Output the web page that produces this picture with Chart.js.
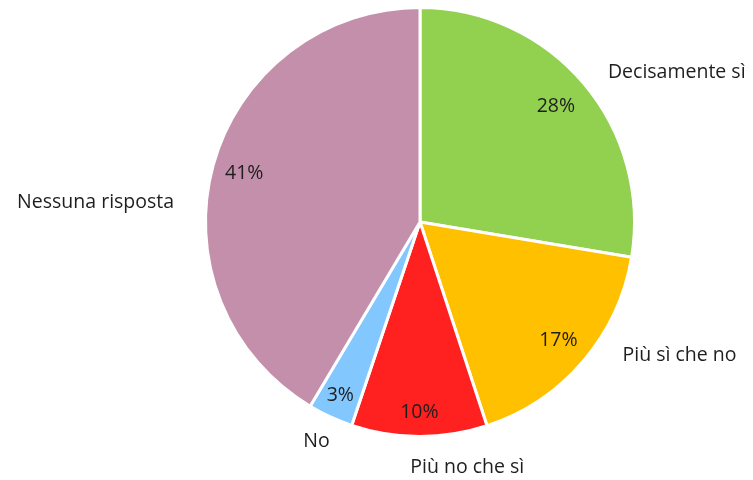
<!DOCTYPE html>
<html>
<head>
<meta charset="utf-8">
<script src="https://cdn.jsdelivr.net/npm/chart.js@4"></script>
<style>
    html, body { margin: 0; padding: 0; background: #fff; }
    #wrap { width: 753px; height: 480px; }
</style>
</head>
<body>
<div id="wrap"><canvas id="pieChart"></canvas></div>
<script>
// Dati (percentuali)
const categories = ['Decisamente sì', 'Più sì che no', 'Più no che sì', 'No', 'Nessuna risposta'];
const values = [27.6, 17.3, 10.2, 3.4, 41.4];
const colors = ['#92D050', '#FFC000', '#FF2020', '#82C8FF', '#C48FAB'];

const textColor = '#1e1e1e';
const fontFamily = '"Open Sans", "Noto Sans", sans-serif';

// posizione delle etichette: raggio relativo per le %, angolo/distanza per i nomi
const pctRadius = [0.83, 0.85, 0.89, 0.89, 0.85];
const nameSpots = [
    { angle: 59.8, dist: 1.385 },
    { angle: 117.2, dist: 1.36 },
    { angle: 169.1, dist: 1.165 },
    { angle: 205.3, dist: 1.13 },
    { angle: 273.4, dist: 1.515 }
];

const labelPlugin = {
    id: 'pieLabels',
    afterDatasetsDraw(chart) {
        const ctx = chart.ctx;
        const meta = chart.getDatasetMeta(0);
        const total = values.reduce((a, b) => a + b, 0);
        ctx.save();
        ctx.fillStyle = textColor;
        ctx.textAlign = 'center';
        ctx.textBaseline = 'middle';
        ctx.font = '19.5px ' + fontFamily;
        meta.data.forEach((arc, i) => {
            const cx = arc.x, cy = arc.y, r = arc.outerRadius;
            const mid = (arc.startAngle + arc.endAngle) / 2;
            const pr = r * pctRadius[i];
            const pct = Math.round(values[i] / total * 100) + '%';
            ctx.fillText(pct, cx + Math.cos(mid) * pr, cy + Math.sin(mid) * pr);

            const a = (nameSpots[i].angle - 90) * Math.PI / 180;
            const d = r * nameSpots[i].dist;
            ctx.fillText(categories[i], cx + Math.cos(a) * d, cy + Math.sin(a) * d);
        });
        ctx.restore();
    }
};

new Chart(document.getElementById('pieChart'), {
    type: 'pie',
    data: {
        labels: categories,
        datasets: [{
            data: values,
            backgroundColor: colors,
            borderColor: '#ffffff',
            borderWidth: 3
        }]
    },
    options: {
        responsive: true,
        maintainAspectRatio: false,
        animation: false,
        layout: { padding: { left: 204, right: 117, top: 6, bottom: 42 } },
        plugins: {
            legend: { display: false },
            tooltip: { enabled: false }
        }
    },
    plugins: [labelPlugin]
});
</script>
</body>
</html>
